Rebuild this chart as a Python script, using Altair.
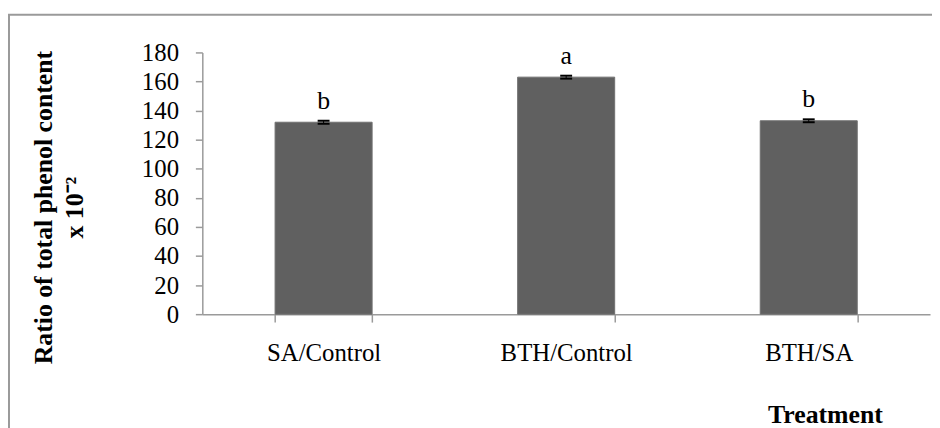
import altair as alt
import pandas as pd

categories = ["SA/Control", "BTH/Control", "BTH/SA"]
values = [132, 163, 133]
errors = [1, 1, 1]
letters = ["b", "a", "b"]
y_ticks = [0, 20, 40, 60, 80, 100, 120, 140, 160, 180]

df = pd.DataFrame({"cat": categories, "val": values, "err": errors, "letter": letters})
df["lo"] = df["val"] - df["err"]
df["hi"] = df["val"] + df["err"]

FONT = "Liberation Serif"
GRAY = "#9a9a9a"
W, H = 734, 264

xscale = alt.Scale(paddingInner=0.6, paddingOuter=0.3)
yscale = alt.Scale(domain=[0, 180], nice=False)

x_axis = alt.Axis(
    title="Treatment", labelAngle=0, tickBand="extent", labelFont=FONT, labelFontSize=25,
    labelColor="black", labelPadding=19, tickSize=8, tickColor=GRAY, domainColor=GRAY,
    tickWidth=1.5, domainWidth=1.5, titleFont=FONT, titleFontSize=26, titleFontWeight="bold",
    titleColor="black", titleX=628, titleY=109, titleBaseline="alphabetic", titleAlign="center",
)
y_axis = alt.Axis(
    title=["Ratio of total phenol content", "x 10\u207b\u00b2"], values=y_ticks, grid=False,
    labelFont=FONT, labelFontSize=25, labelColor="black", labelPadding=17, tickSize=7,
    tickColor=GRAY, domainColor=GRAY, tickWidth=1.5, domainWidth=1.5,
    titleFont=FONT, titleFontSize=26, titleFontWeight="bold", titleColor="black",
    titleAngle=270, titleX=-152, titleY=156, titleAlign="center", titleBaseline="alphabetic",
    titleLineHeight=31,
)

X = alt.X("cat:N", sort=categories, scale=xscale, axis=x_axis)


def Y(field):
    return alt.Y(field, scale=yscale, axis=y_axis)


base = alt.Chart(df)

border = base.mark_rect(fill="transparent", stroke=GRAY, strokeWidth=2).encode(
    x=alt.value(-195), x2=alt.value(W + 40), y=alt.value(-38), y2=alt.value(H + 200)
).transform_filter(alt.datum.cat == "SA/Control")

bars = base.mark_bar(color="#606060", stroke="#707070", strokeWidth=1).encode(
    x=X, y=Y("val:Q"),
)
rule = base.mark_rule(color="black", strokeWidth=1).encode(
    x=X, y=Y("lo:Q"), y2="hi:Q",
)
cap_hi = base.mark_tick(color="black", thickness=2, size=12, opacity=1).encode(
    x=X, y=Y("hi:Q"),
)
cap_lo = base.mark_tick(color="black", thickness=2, size=12, opacity=1).encode(
    x=X, y=Y("lo:Q"),
)
text = base.mark_text(font=FONT, fontSize=26, color="black", baseline="alphabetic", dy=-12).encode(
    x=X, y=Y("hi:Q"), text="letter:N",
)

chart = alt.layer(border, bars, rule, cap_hi, cap_lo, text).properties(
    width=W, height=H,
    padding={"left": 196, "top": 43, "right": 2, "bottom": 113},
    autosize=alt.AutoSizeParams(type="none"),
    background="white",
).configure_view(stroke=None)

chart.save("out.html", embed_options={"renderer": "svg", "actions": False})
